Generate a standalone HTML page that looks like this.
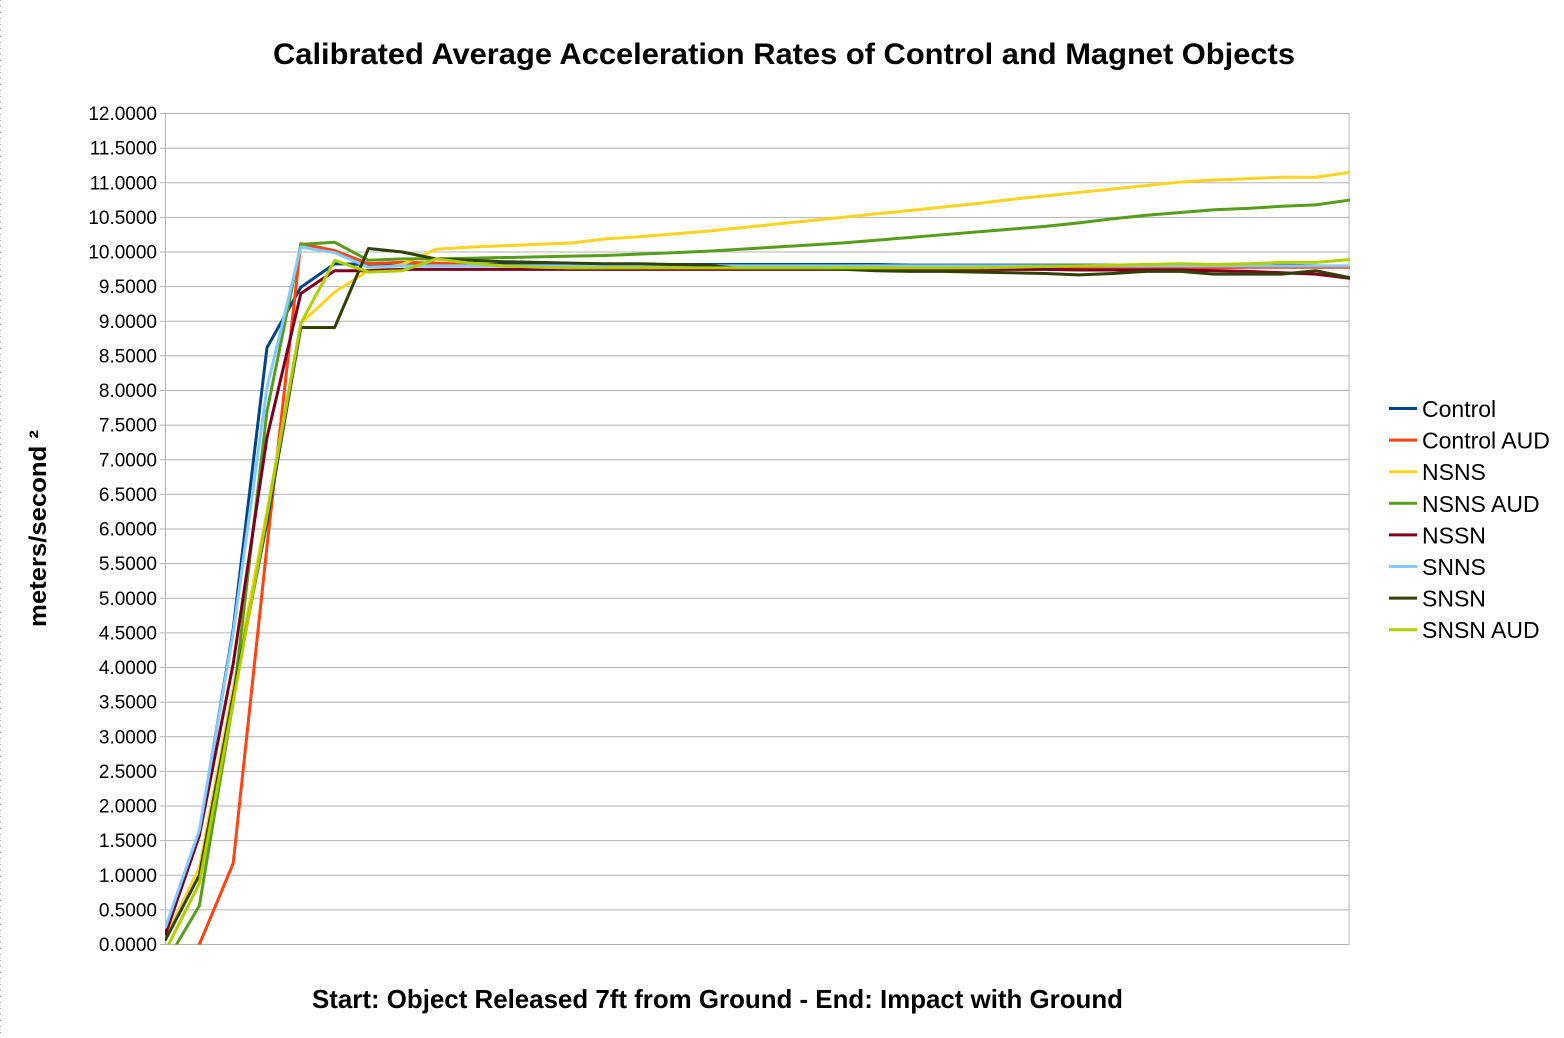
<!DOCTYPE html>
<html>
<head>
<meta charset="utf-8">
<style>
html,body{margin:0;padding:0;background:#fff;}
svg{display:block;}
text{font-family:"Liberation Sans",Arial,sans-serif;fill:#000;}
</style>
</head>
<body>
<svg width="1564" height="1038" viewBox="0 0 1564 1038" xmlns="http://www.w3.org/2000/svg">
<rect x="0" y="0" width="1564" height="1038" fill="#fff"/>
<line x1="0.5" y1="0" x2="0.5" y2="1038" stroke="#a0a0a0" stroke-width="1" stroke-dasharray="1,5"/>

<!-- Title -->
<text x="784" y="64" font-size="30" font-weight="bold" text-anchor="middle" textLength="1022" lengthAdjust="spacingAndGlyphs">Calibrated Average Acceleration Rates of Control and Magnet Objects</text>

<!-- Grid lines -->
<g stroke="#b3b3b3" stroke-width="1">
<line x1="160" y1="944.5" x2="1349" y2="944.5"/>
<line x1="160" y1="909.9" x2="1349" y2="909.9"/>
<line x1="160" y1="875.3" x2="1349" y2="875.3"/>
<line x1="160" y1="840.6" x2="1349" y2="840.6"/>
<line x1="160" y1="806.0" x2="1349" y2="806.0"/>
<line x1="160" y1="771.4" x2="1349" y2="771.4"/>
<line x1="160" y1="736.8" x2="1349" y2="736.8"/>
<line x1="160" y1="702.1" x2="1349" y2="702.1"/>
<line x1="160" y1="667.5" x2="1349" y2="667.5"/>
<line x1="160" y1="632.9" x2="1349" y2="632.9"/>
<line x1="160" y1="598.3" x2="1349" y2="598.3"/>
<line x1="160" y1="563.6" x2="1349" y2="563.6"/>
<line x1="160" y1="529.0" x2="1349" y2="529.0"/>
<line x1="160" y1="494.4" x2="1349" y2="494.4"/>
<line x1="160" y1="459.8" x2="1349" y2="459.8"/>
<line x1="160" y1="425.1" x2="1349" y2="425.1"/>
<line x1="160" y1="390.5" x2="1349" y2="390.5"/>
<line x1="160" y1="355.9" x2="1349" y2="355.9"/>
<line x1="160" y1="321.3" x2="1349" y2="321.3"/>
<line x1="160" y1="286.6" x2="1349" y2="286.6"/>
<line x1="160" y1="252.0" x2="1349" y2="252.0"/>
<line x1="160" y1="217.4" x2="1349" y2="217.4"/>
<line x1="160" y1="182.8" x2="1349" y2="182.8"/>
<line x1="160" y1="148.1" x2="1349" y2="148.1"/>
<line x1="160" y1="113.5" x2="1349" y2="113.5"/>
<line x1="165.5" y1="113" x2="165.5" y2="945"/>
<line x1="1349" y1="113" x2="1349" y2="945"/>
</g>

<!-- Y tick labels -->
<g font-size="19" text-anchor="end">
<text x="157" y="951">0.0000</text>
<text x="157" y="916.4">0.5000</text>
<text x="157" y="881.8">1.0000</text>
<text x="157" y="847.1">1.5000</text>
<text x="157" y="812.5">2.0000</text>
<text x="157" y="777.9">2.5000</text>
<text x="157" y="743.3">3.0000</text>
<text x="157" y="708.6">3.5000</text>
<text x="157" y="674.0">4.0000</text>
<text x="157" y="639.4">4.5000</text>
<text x="157" y="604.8">5.0000</text>
<text x="157" y="570.1">5.5000</text>
<text x="157" y="535.5">6.0000</text>
<text x="157" y="500.9">6.5000</text>
<text x="157" y="466.3">7.0000</text>
<text x="157" y="431.6">7.5000</text>
<text x="157" y="397.0">8.0000</text>
<text x="157" y="362.4">8.5000</text>
<text x="157" y="327.8">9.0000</text>
<text x="157" y="293.1">9.5000</text>
<text x="157" y="258.5">10.0000</text>
<text x="157" y="223.9">10.5000</text>
<text x="157" y="189.3">11.0000</text>
<text x="157" y="154.6">11.5000</text>
<text x="157" y="120.0">12.0000</text>
</g>

<!-- Axis titles -->
<text x="312" y="1008" font-size="26" font-weight="bold" textLength="811" lengthAdjust="spacingAndGlyphs">Start: Object Released 7ft from Ground - End: Impact with Ground</text>
<text transform="translate(46,627) rotate(-90)" font-size="24" font-weight="bold" textLength="197" lengthAdjust="spacingAndGlyphs">meters/second ²</text>

<!-- Series -->
<defs>
<clipPath id="plot"><rect x="165" y="100" width="1185" height="844.5"/></clipPath>
</defs>
<g clip-path="url(#plot)">
<g transform="matrix(33.829 0 0 -69.25 165.5 944.5)" fill="none" stroke-width="3" stroke-linejoin="round" stroke-linecap="round">
<polyline vector-effect="non-scaling-stroke" stroke="#004586" points="0,0.2 1,1.62 2,4.55 3,8.62 4,9.49 5,9.83 6,9.82 7,9.82 8,9.82 9,9.82 10,9.82 11,9.82 12,9.82 13,9.82 14,9.82 15,9.82 16,9.82 17,9.82 18,9.82 19,9.82 20,9.82 21,9.82 22,9.81 23,9.81 24,9.81 25,9.81 26,9.81 27,9.81 28,9.81 29,9.81 30,9.81 31,9.81 32,9.81 33,9.81 34,9.8 35,9.79"/>
<polyline vector-effect="non-scaling-stroke" stroke="#ff420e" points="0,-1.2 1,0 2,1.17 3,5.75 4,10.12 5,10.02 6,9.83 7,9.85 8,9.84 9,9.82 10,9.8 11,9.79 12,9.78 13,9.78 14,9.77 15,9.77 16,9.77 17,9.77 18,9.77 19,9.77 20,9.77 21,9.77 22,9.77 23,9.77 24,9.77 25,9.77 26,9.76 27,9.76 28,9.76 29,9.76 30,9.77 31,9.77 32,9.78 33,9.78 34,9.78 35,9.78"/>
<polyline vector-effect="non-scaling-stroke" stroke="#ffd320" points="0,0.1 1,1.11 2,3.7 3,6.25 4,8.97 5,9.42 6,9.73 7,9.82 8,10.04 9,10.07 10,10.09 11,10.11 12,10.13 13,10.19 14,10.22 15,10.26 16,10.3 17,10.35 18,10.4 19,10.45 20,10.5 21,10.55 22,10.6 23,10.65 24,10.7 25,10.76 26,10.81 27,10.86 28,10.91 29,10.96 30,11.01 31,11.04 32,11.06 33,11.08 34,11.08 35,11.15"/>
<polyline vector-effect="non-scaling-stroke" stroke="#579d1c" points="0,-0.27 1,0.56 2,3.5 3,7.7 4,10.11 5,10.14 6,9.88 7,9.9 8,9.9 9,9.91 10,9.92 11,9.93 12,9.94 13,9.95 14,9.97 15,9.99 16,10.01 17,10.04 18,10.07 19,10.1 20,10.13 21,10.17 22,10.21 23,10.25 24,10.29 25,10.33 26,10.37 27,10.42 28,10.48 29,10.53 30,10.57 31,10.61 32,10.63 33,10.66 34,10.68 35,10.75"/>
<polyline vector-effect="non-scaling-stroke" stroke="#7e0021" points="0,0.15 1,1.57 2,4.05 3,7.32 4,9.4 5,9.73 6,9.73 7,9.75 8,9.75 9,9.75 10,9.75 11,9.75 12,9.75 13,9.75 14,9.75 15,9.75 16,9.75 17,9.75 18,9.75 19,9.75 20,9.75 21,9.75 22,9.75 23,9.75 24,9.75 25,9.75 26,9.75 27,9.74 28,9.74 29,9.74 30,9.74 31,9.73 32,9.72 33,9.7 34,9.68 35,9.62"/>
<polyline vector-effect="non-scaling-stroke" stroke="#83caff" points="0,0.25 1,1.65 2,4.5 3,8.04 4,10.07 5,9.99 6,9.78 7,9.8 8,9.8 9,9.8 10,9.8 11,9.8 12,9.8 13,9.8 14,9.8 15,9.8 16,9.8 17,9.8 18,9.8 19,9.8 20,9.8 21,9.8 22,9.8 23,9.8 24,9.8 25,9.8 26,9.8 27,9.8 28,9.8 29,9.8 30,9.8 31,9.8 32,9.8 33,9.8 34,9.8 35,9.8"/>
<polyline vector-effect="non-scaling-stroke" stroke="#314004" points="0,0.07 1,1.0 2,3.6 3,6.1 4,8.91 5,8.91 6,10.05 7,10.0 8,9.9 9,9.88 10,9.86 11,9.85 12,9.84 13,9.83 14,9.83 15,9.82 16,9.81 17,9.76 18,9.76 19,9.76 20,9.75 21,9.73 22,9.72 23,9.72 24,9.71 25,9.7 26,9.69 27,9.67 28,9.69 29,9.72 30,9.72 31,9.68 32,9.68 33,9.68 34,9.73 35,9.63"/>
<polyline vector-effect="non-scaling-stroke" stroke="#aecf00" points="0,-0.09 1,0.88 2,3.5 3,6.2 4,8.97 5,9.88 6,9.71 7,9.73 8,9.9 9,9.84 10,9.8 11,9.78 12,9.77 13,9.77 14,9.77 15,9.77 16,9.77 17,9.77 18,9.77 19,9.77 20,9.77 21,9.77 22,9.77 23,9.77 24,9.77 25,9.78 26,9.79 27,9.8 28,9.81 29,9.82 30,9.83 31,9.82 32,9.83 33,9.85 34,9.85 35,9.89"/>
</g>
</g>

<!-- Legend -->
<g stroke-width="3">
<line x1="1389" y1="408.5" x2="1417" y2="408.5" stroke="#004586"/>
<line x1="1389" y1="440.1" x2="1417" y2="440.1" stroke="#ff420e"/>
<line x1="1389" y1="471.7" x2="1417" y2="471.7" stroke="#ffd320"/>
<line x1="1389" y1="503.3" x2="1417" y2="503.3" stroke="#579d1c"/>
<line x1="1389" y1="534.9" x2="1417" y2="534.9" stroke="#7e0021"/>
<line x1="1389" y1="566.5" x2="1417" y2="566.5" stroke="#83caff"/>
<line x1="1389" y1="598.1" x2="1417" y2="598.1" stroke="#314004"/>
<line x1="1389" y1="629.7" x2="1417" y2="629.7" stroke="#aecf00"/>
</g>
<g font-size="23">
<text x="1422" y="417">Control</text>
<text x="1422" y="448.6">Control AUD</text>
<text x="1422" y="480.2">NSNS</text>
<text x="1422" y="511.8">NSNS AUD</text>
<text x="1422" y="543.4">NSSN</text>
<text x="1422" y="575">SNNS</text>
<text x="1422" y="606.6">SNSN</text>
<text x="1422" y="638.2">SNSN AUD</text>
</g>
</svg>
</body>
</html>
